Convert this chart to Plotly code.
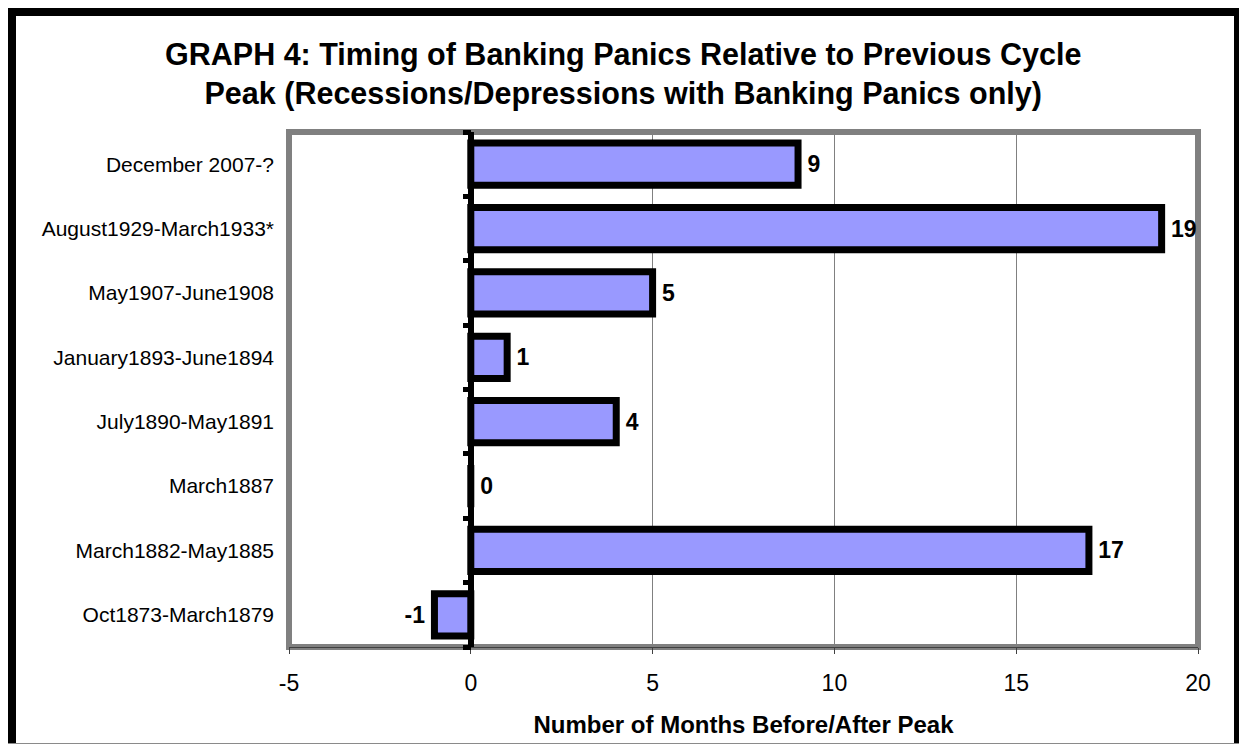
import plotly.graph_objects as go

# Recessions/depressions with banking panics, bottom to top
periods = [
    "Oct1873-March1879",
    "March1882-May1885",
    "March1887",
    "July1890-May1891",
    "January1893-June1894",
    "May1907-June1908",
    "August1929-March1933*",
    "December 2007-?",
]
months_from_peak = [-1, 17, 0, 4, 1, 5, 19, 9]

x_ticks = [-5, 0, 5, 10, 15, 20]

W, H = 1239, 744
L, R, T, B = 289, 41, 132, 97
PW, PH = W - L - R, H - T - B

FONT = "Arial, 'Liberation Sans', sans-serif"
NBSP = "\u00a0"


def px_x(p):
    return (p - L) / PW


def px_y(p):
    return (H - B - p) / PH


def bar_label(v):
    # keep a small gap between the bar outline and its value
    return f"{v}{NBSP}" if v < 0 else f"{NBSP}{v}"


fig = go.Figure()

fig.add_trace(go.Bar(
    y=periods,
    x=months_from_peak,
    orientation="h",
    marker=dict(color="#9999FF", line=dict(color="black", width=7)),
    text=[bar_label(v) for v in months_from_peak],
    textposition="outside",
    textfont=dict(family=FONT, size=23, color="black", weight="bold"),
    cliponaxis=False,
    hoverinfo="skip",
))

# empty trace so the category-boundary tick axis is drawn
fig.add_trace(go.Scatter(
    x=[0], y=[0], yaxis="y2", mode="markers",
    marker=dict(opacity=0), hoverinfo="skip", showlegend=False,
))

fig.update_layout(
    width=W,
    height=H,
    margin=dict(l=L, r=R, t=T, b=B, autoexpand=False),
    paper_bgcolor="white",
    plot_bgcolor="white",
    showlegend=False,
    bargap=0.344,
    font=dict(family=FONT, color="black"),
    title=dict(
        text="GRAPH 4: Timing of Banking Panics Relative to Previous Cycle<br>"
             "Peak (Recessions/Depressions with Banking Panics only)",
        font=dict(family=FONT, size=30.5, color="black", weight="bold"),
        x=0.503, xref="container", xanchor="center",
        y=1 - 64.5 / H, yref="container", yanchor="middle",
        automargin=False,
    ),
    xaxis=dict(
        range=[-5, 20],
        tickvals=x_ticks,
        ticktext=[str(v) for v in x_ticks],
        tickfont=dict(family=FONT, size=23, color="black"),
        showgrid=True, gridcolor="#808080", gridwidth=1,
        zeroline=True, zerolinecolor="black", zerolinewidth=6,
        showline=True, linecolor="#404040", linewidth=1,
        ticks="outside", ticklen=6, tickcolor="#404040", tickwidth=1,
        ticklabelstandoff=9,
        title=dict(text="Number of Months Before/After Peak",
                   font=dict(family=FONT, size=24, color="black", weight="bold"),
                   standoff=21),
        automargin=False,
        fixedrange=True,
    ),
    yaxis=dict(
        type="category",
        categoryorder="array",
        categoryarray=periods,
        tickfont=dict(family=FONT, size=21, color="black"),
        ticks="",
        showgrid=False, zeroline=False, showline=False,
        ticklabelstandoff=14,
        automargin=False,
        fixedrange=True,
    ),
    # tick marks on the zero axis between categories
    yaxis2=dict(
        overlaying="y",
        anchor="free",
        position=5 / 25,
        side="left",
        range=[-0.5, len(periods) - 0.5],
        tickvals=[i - 0.5 for i in range(len(periods) + 1)],
        ticks="outside", ticklen=8, tickwidth=5, tickcolor="black",
        showticklabels=False,
        showgrid=False, zeroline=False, showline=False,
        automargin=False,
        fixedrange=True,
    ),
)

# gray frame around the plotting area
fig.add_shape(type="rect", xref="paper", yref="paper",
              x0=0, x1=1, y0=0, y1=1,
              line=dict(color="#808080", width=6), layer="below")

# black outer border of the chart (bottom edge runs off the page)
fig.add_shape(type="rect", xref="paper", yref="paper",
              x0=px_x(12), x1=px_x(1238), y0=px_y(12), y1=px_y(752),
              line=dict(color="black", width=8), layer="above")
fig.add_shape(type="line", xref="paper", yref="paper",
              x0=px_x(8), x1=px_x(1242), y0=px_y(743.5), y1=px_y(743.5),
              line=dict(color="#8a8a8a", width=1), layer="above")

fig.write_html("out.html")
